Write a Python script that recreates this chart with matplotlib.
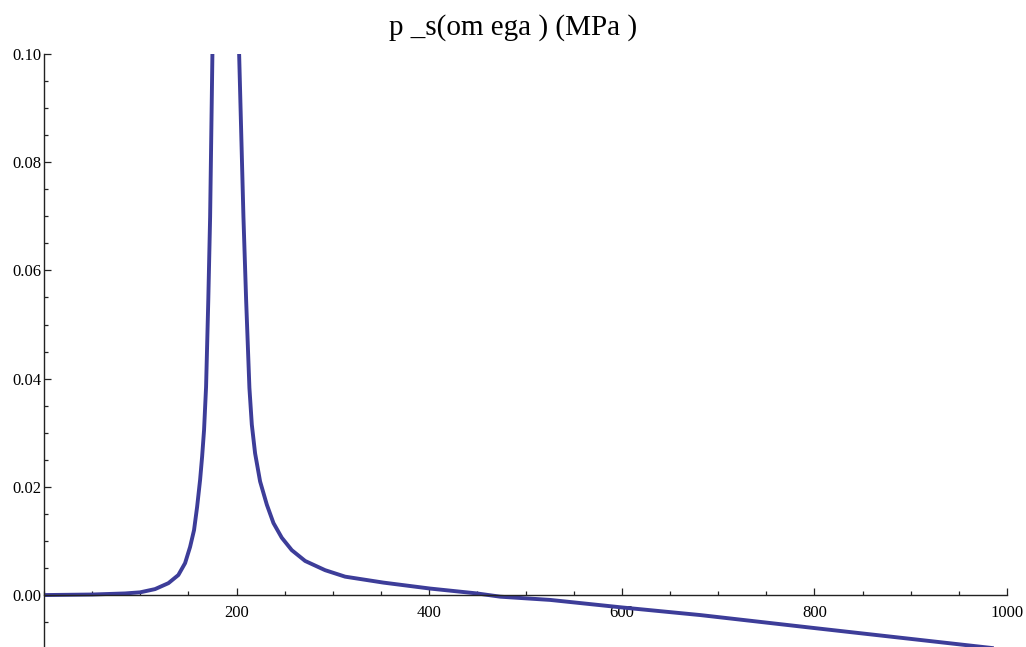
import numpy as np
import matplotlib
matplotlib.use("Agg")
import matplotlib.pyplot as plt
from matplotlib.ticker import MultipleLocator, FuncFormatter

# curve (nan splits the two branches at the resonance)
omega = [0, 50, 84.2, 99.7, 115.3, 129.2, 139.5, 146.5, 151.7, 155.8, 159, 162.1,
         164.2, 166.2, 168.3, 170.6, 172.5, 174.9, 176, np.nan,
         201, 202.6, 207.1, 209.9, 213.3, 215.8, 219.2, 224.4, 231.4, 238.3, 246.9,
         257.3, 271.2, 291.9, 312.7, 352.5, 401, 449.6, 473.8, 525.7, 600.8, 681.6,
         800, 900, 1000]
p_s = [0.0, 0.0001, 0.0003, 0.0005, 0.0011, 0.0022, 0.0037, 0.0059, 0.0089, 0.0120, 0.0163, 0.0213,
       0.0256, 0.0305, 0.0385, 0.0545, 0.0699, 0.1002, 0.115, np.nan,
       0.111, 0.1002, 0.0699, 0.0545, 0.0383, 0.0315, 0.0262, 0.0210, 0.0167, 0.0133, 0.0106,
       0.0083, 0.0063, 0.0046, 0.0034, 0.0023, 0.0012, 0.0003, -0.0003, -0.0009, -0.0023, -0.0037,
       -0.0061, -0.0081, -0.0101]

x_major = [200, 400, 600, 800, 1000]
y_major = [0.00, 0.02, 0.04, 0.06, 0.08, 0.10]

plt.rcParams['font.family'] = ['Liberation Serif', 'DejaVu Serif']

fig = plt.figure(figsize=(10.26, 6.47), dpi=100)
ax = fig.add_axes([44/1026, 0, 963/1026, 593/647])

ax.plot(omega, p_s, color='#3d3d99', lw=2.8, solid_joinstyle='round')

ax.set_xlim(0, 1000)
ax.set_ylim(-0.0096, 0.10)

ax.spines['top'].set_visible(False)
ax.spines['right'].set_visible(False)
ax.spines['bottom'].set_position(('data', 0))
for s in ['left', 'bottom']:
    ax.spines[s].set_linewidth(1.0)
    ax.spines[s].set_color('#222222')

ax.set_xticks(x_major)
ax.xaxis.set_minor_locator(MultipleLocator(50))
ax.set_yticks(y_major)
ax.yaxis.set_minor_locator(MultipleLocator(0.005))
ax.yaxis.set_major_formatter(FuncFormatter(lambda v, p: "%.2f" % v))

ax.tick_params(which='both', direction='in', color='#222222', width=0.9, labelsize=12)
ax.tick_params(which='major', length=5)
ax.tick_params(which='minor', length=3)
ax.tick_params(axis='x', pad=7)
ax.tick_params(axis='y', pad=2)

fig.text(0.5, 1 - 28/647, "p _s(om ega ) (MPa )", ha='center', va='center', fontsize=21)

fig.savefig("out.png", dpi=100)
